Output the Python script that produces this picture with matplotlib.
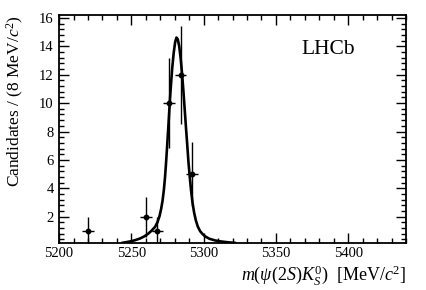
import matplotlib
matplotlib.use("Agg")
import matplotlib.pyplot as plt
from matplotlib.ticker import MultipleLocator, FixedLocator
import numpy as np

plt.rcParams['font.family'] = ['Liberation Serif', 'DejaVu Serif']
plt.rcParams['mathtext.fontset'] = 'custom'
plt.rcParams['mathtext.rm'] = 'Liberation Serif'
plt.rcParams['mathtext.it'] = 'Liberation Serif:italic'
plt.rcParams['mathtext.bf'] = 'Liberation Serif:bold'

# data points (bin centres, counts, sqrt(N) errors)
mass = [5220, 5260, 5268, 5276, 5284, 5292]
counts = [1, 2, 1, 10, 12, 5]
count_err = [1.0, 1.41, 1.0, 3.16, 3.46, 2.24]
bin_half_width = [4, 4, 4, 4, 4, 4]

# fit curve
curve_m = [5243.4, 5247.0, 5250.0, 5252.6, 5256.0, 5259.0, 5261.8, 5264.0, 5266.4,
           5268.0, 5269.5, 5270.6, 5271.6, 5272.5, 5273.3, 5274.0, 5274.7, 5275.5,
           5276.3, 5277.2, 5278.2, 5279.3, 5280.3, 5281.2, 5282.1, 5283.1, 5284.1,
           5285.1, 5286.0, 5286.9, 5287.8, 5288.7, 5289.5, 5290.4, 5291.3, 5292.3,
           5293.4, 5294.6, 5296.0, 5297.6, 5299.3, 5301.0, 5304.0, 5308.0, 5312.0,
           5317.0, 5322.0]
curve_y = [0.16, 0.22, 0.28, 0.35, 0.47, 0.62, 0.82, 1.02, 1.29,
           1.60, 2.05, 2.55, 3.15, 3.90, 4.80, 5.80, 6.90, 8.20,
           9.60, 11.00, 12.40, 13.55, 14.30, 14.62, 14.50, 14.00, 13.15,
           12.05, 10.85, 9.55, 8.25, 7.00, 5.85, 4.80, 3.85, 3.00,
           2.30, 1.75, 1.30, 0.98, 0.78, 0.62, 0.45, 0.33, 0.26,
           0.20, 0.16]

x_range = [5200, 5440]
y_range = [0.15, 16.2]
x_major = [5200, 5250, 5300, 5350, 5400]
y_major = [2, 4, 6, 8, 10, 12, 14, 16]

fig = plt.figure(figsize=(4.27, 2.90), dpi=100)
ax = fig.add_axes([0.1384, 0.162, 0.9508 - 0.1384, 0.948 - 0.162])

ax.plot(curve_m, curve_y, color='black', lw=1.9, solid_joinstyle='round',
        solid_capstyle='round', zorder=2)
ax.errorbar(mass, counts, yerr=count_err, xerr=bin_half_width, fmt='o',
            color='black', ms=3.2, elinewidth=1.0, capsize=0, zorder=3)

ax.set_xlim(*x_range)
ax.set_ylim(*y_range)
ax.xaxis.set_major_locator(FixedLocator(x_major))
ax.xaxis.set_minor_locator(MultipleLocator(10))
ax.yaxis.set_major_locator(FixedLocator(y_major))
ax.yaxis.set_minor_locator(MultipleLocator(0.4))

ax.tick_params(which='both', direction='in', top=True, right=True,
               labelsize=10.5, width=1.0, colors='black')
ax.tick_params(which='major', length=7, pad=3)
ax.tick_params(which='minor', length=3.5)
ax.tick_params(axis='y', which='major', pad=4)
for s in ax.spines.values():
    s.set_linewidth(1.3)

ax.set_ylabel('Candidates / (8 MeV/$c^2$)', fontsize=12.5, loc='top')
ax.yaxis.set_label_coords(-0.095, 1.0)
ax.set_xlabel(r'$m(\psi(2S)K^{0}_{S})$  [MeV/$c^2$]', fontsize=13, loc='right')
ax.xaxis.set_label_coords(1.0, -0.09)

ax.text(0.70, 0.85, 'LHCb', transform=ax.transAxes, fontsize=15.5,
        ha='left', va='center')

fig.savefig('out.png', dpi=100)
